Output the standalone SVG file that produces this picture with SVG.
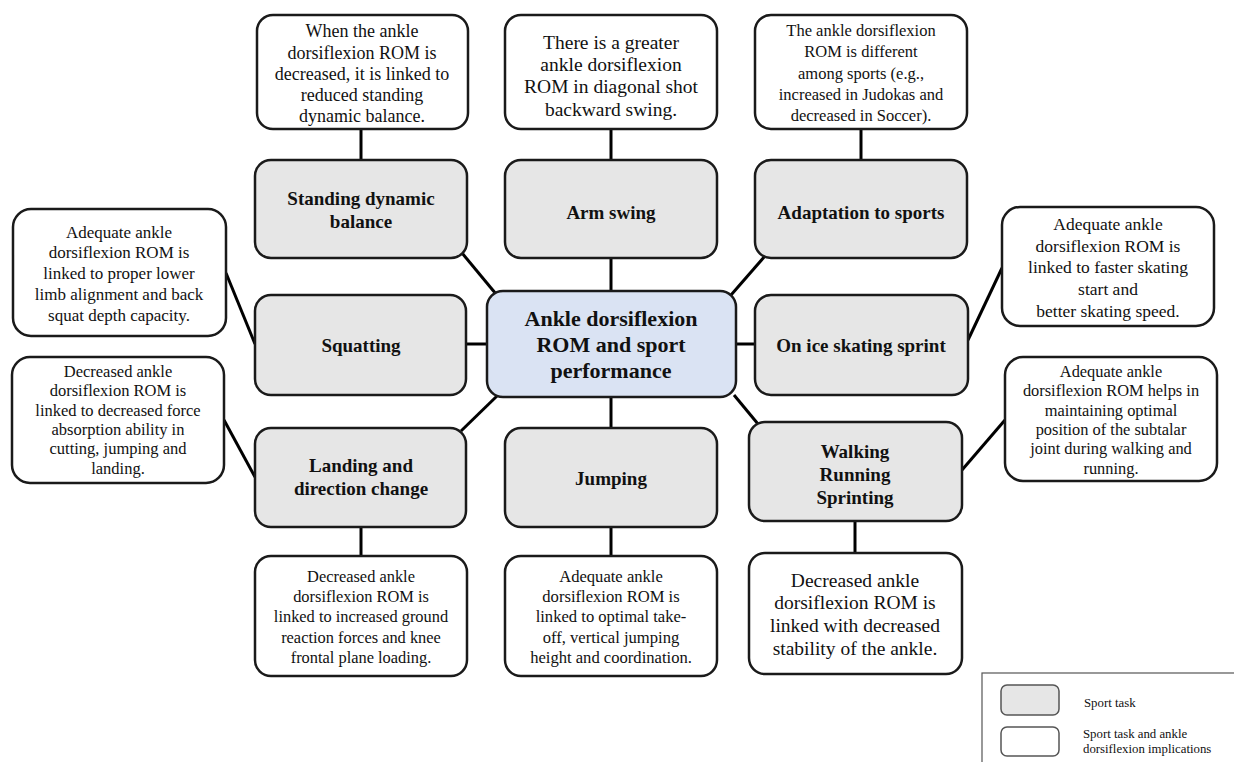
<svg xmlns="http://www.w3.org/2000/svg" width="1234" height="762" viewBox="0 0 1234 762">
  <style>
    .task { fill: #e6e6e6; stroke: #1a1a1a; stroke-width: 2.5; }
    .note { fill: #ffffff; stroke: #1a1a1a; stroke-width: 2.5; }
    .core { fill: #dae3f3; stroke: #1a1a1a; stroke-width: 2.5; }
    .link { stroke: #000000; stroke-width: 3; fill: none; stroke-linecap: butt; }
    text { font-family: "Liberation Serif", "Times New Roman", serif; fill: #111111; text-anchor: middle; }
    .tb { font-weight: bold; font-size: 19px; }
    .cb { font-weight: bold; font-size: 22px; }
    .lg { font-size: 12.8px; text-anchor: start; }
    .lgbox { stroke: #555555; stroke-width: 1.5; }
  </style>

  <rect width="1234" height="762" fill="#ffffff"/>

  <!-- connectors -->
  <g id="connectors" class="link">
    <line x1="361" y1="129" x2="361" y2="160"/>
    <line x1="611" y1="129" x2="611" y2="160"/>
    <line x1="861" y1="129" x2="861" y2="160"/>
    <line x1="462" y1="253" x2="496" y2="294"/>
    <line x1="611" y1="258" x2="611" y2="291"/>
    <line x1="765" y1="256" x2="731" y2="295"/>
    <line x1="466" y1="344" x2="487" y2="344"/>
    <line x1="736" y1="344" x2="755" y2="344"/>
    <line x1="497" y1="396" x2="461" y2="431"/>
    <line x1="611" y1="397" x2="611" y2="428"/>
    <line x1="734" y1="395" x2="758" y2="424"/>
    <line x1="226" y1="273" x2="255" y2="344"/>
    <line x1="224" y1="420" x2="255" y2="477"/>
    <line x1="968" y1="340" x2="1002" y2="268"/>
    <line x1="962" y1="470" x2="1005" y2="420"/>
    <line x1="361" y1="527" x2="361" y2="556"/>
    <line x1="611" y1="527" x2="611" y2="556"/>
    <line x1="855" y1="521" x2="855" y2="552"/>
  </g>

  <!-- central topic -->
  <g id="core">
    <rect class="core" x="487" y="291" width="249" height="106" rx="16"/>
    <text class="cb" x="611" y="326">Ankle dorsiflexion</text>
    <text class="cb" x="611" y="352">ROM and sport</text>
    <text class="cb" x="611" y="378">performance</text>
  </g>

  <!-- sport tasks -->
  <g id="task-balance">
    <rect class="task" x="255" y="160" width="212" height="98" rx="16"/>
    <text class="tb" x="361" y="205">Standing dynamic</text>
    <text class="tb" x="361" y="228">balance</text>
  </g>
  <g id="task-armswing">
    <rect class="task" x="505" y="160" width="212" height="98" rx="16"/>
    <text class="tb" x="611" y="219">Arm swing</text>
  </g>
  <g id="task-adaptation">
    <rect class="task" x="755" y="160" width="212" height="98" rx="16"/>
    <text class="tb" x="861" y="219">Adaptation to sports</text>
  </g>
  <g id="task-squatting">
    <rect class="task" x="255" y="295" width="211" height="100" rx="16"/>
    <text class="tb" x="361" y="352">Squatting</text>
  </g>
  <g id="task-skating">
    <rect class="task" x="755" y="295" width="213" height="100" rx="16"/>
    <text class="tb" x="861" y="352">On ice skating sprint</text>
  </g>
  <g id="task-landing">
    <rect class="task" x="255" y="428" width="211" height="99" rx="16"/>
    <text class="tb" x="361" y="472">Landing and</text>
    <text class="tb" x="361" y="495">direction change</text>
  </g>
  <g id="task-jumping">
    <rect class="task" x="505" y="428" width="212" height="99" rx="16"/>
    <text class="tb" x="611" y="485">Jumping</text>
  </g>
  <g id="task-walking">
    <rect class="task" x="749" y="422" width="213" height="99" rx="16"/>
    <text class="tb" x="855" y="458">Walking</text>
    <text class="tb" x="855" y="481">Running</text>
    <text class="tb" x="855" y="504">Sprinting</text>
  </g>

  <!-- implications -->
  <g id="note-balance">
    <rect class="note" x="257" y="15" width="211" height="114" rx="16"/>
    <text x="362" y="37" font-size="18">When the ankle</text>
    <text x="362" y="59" font-size="18">dorsiflexion ROM is</text>
    <text x="362" y="80" font-size="18">decreased, it is linked to</text>
    <text x="362" y="101" font-size="18">reduced standing</text>
    <text x="362" y="122" font-size="18">dynamic balance.</text>
  </g>
  <g id="note-armswing">
    <rect class="note" x="505" y="15" width="212" height="114" rx="16"/>
    <text x="611" y="49" font-size="19.5">There is a greater</text>
    <text x="611" y="71" font-size="19.5">ankle dorsiflexion</text>
    <text x="611" y="93" font-size="19.5">ROM in diagonal shot</text>
    <text x="611" y="116" font-size="19.5">backward swing.</text>
  </g>
  <g id="note-adaptation">
    <rect class="note" x="755" y="15" width="212" height="114" rx="16"/>
    <text x="861" y="36" font-size="16.5">The ankle dorsiflexion</text>
    <text x="861" y="57" font-size="16.5">ROM is different</text>
    <text x="861" y="79" font-size="16.5">among sports (e.g.,</text>
    <text x="861" y="100" font-size="16.5">increased in Judokas and</text>
    <text x="861" y="121" font-size="16.5">decreased in Soccer).</text>
  </g>
  <g id="note-squatting">
    <rect class="note" x="13" y="209" width="213" height="127" rx="18"/>
    <text x="119" y="238" font-size="17">Adequate ankle</text>
    <text x="119" y="258" font-size="17">dorsiflexion ROM is</text>
    <text x="119" y="279" font-size="17">linked to proper lower</text>
    <text x="119" y="300" font-size="17">limb alignment and back</text>
    <text x="119" y="321" font-size="17">squat depth capacity.</text>
  </g>
  <g id="note-landing-side">
    <rect class="note" x="12" y="357" width="212" height="126" rx="18"/>
    <text x="118" y="377" font-size="16.5">Decreased ankle</text>
    <text x="118" y="396" font-size="16.5">dorsiflexion ROM is</text>
    <text x="118" y="416" font-size="16.5">linked to decreased force</text>
    <text x="118" y="435" font-size="16.5">absorption ability in</text>
    <text x="118" y="454" font-size="16.5">cutting, jumping and</text>
    <text x="118" y="474" font-size="16.5">landing.</text>
  </g>
  <g id="note-skating">
    <rect class="note" x="1002" y="207" width="212" height="119" rx="18"/>
    <text x="1108" y="230" font-size="17.5">Adequate ankle</text>
    <text x="1108" y="252" font-size="17.5">dorsiflexion ROM is</text>
    <text x="1108" y="273" font-size="17.5">linked to faster skating</text>
    <text x="1108" y="295" font-size="17.5">start and</text>
    <text x="1108" y="317" font-size="17.5">better skating speed.</text>
  </g>
  <g id="note-walking-side">
    <rect class="note" x="1005" y="357" width="212" height="124" rx="18"/>
    <text x="1111" y="377" font-size="16.4">Adequate ankle</text>
    <text x="1111" y="396" font-size="16.4">dorsiflexion ROM helps in</text>
    <text x="1111" y="416" font-size="16.4">maintaining optimal</text>
    <text x="1111" y="435" font-size="16.4">position of the subtalar</text>
    <text x="1111" y="454" font-size="16.4">joint during walking and</text>
    <text x="1111" y="474" font-size="16.4">running.</text>
  </g>
  <g id="note-landing">
    <rect class="note" x="255" y="556" width="212" height="120" rx="16"/>
    <text x="361" y="582" font-size="16.4">Decreased ankle</text>
    <text x="361" y="602" font-size="16.4">dorsiflexion ROM is</text>
    <text x="361" y="622" font-size="16.4">linked to increased ground</text>
    <text x="361" y="643" font-size="16.4">reaction forces and knee</text>
    <text x="361" y="663" font-size="16.4">frontal plane loading.</text>
  </g>
  <g id="note-jumping">
    <rect class="note" x="505" y="556" width="212" height="120" rx="16"/>
    <text x="611" y="582" font-size="16.6">Adequate ankle</text>
    <text x="611" y="602" font-size="16.6">dorsiflexion ROM is</text>
    <text x="611" y="622" font-size="16.6">linked to optimal take-</text>
    <text x="611" y="643" font-size="16.6">off, vertical jumping</text>
    <text x="611" y="663" font-size="16.6">height and coordination.</text>
  </g>
  <g id="note-walking">
    <rect class="note" x="749" y="553" width="213" height="121" rx="16"/>
    <text x="855" y="587" font-size="19.5">Decreased ankle</text>
    <text x="855" y="609" font-size="19.5">dorsiflexion ROM is</text>
    <text x="855" y="632" font-size="19.5">linked with decreased</text>
    <text x="855" y="655" font-size="19.5">stability of the ankle.</text>
  </g>

  <!-- key -->
  <g id="legend">
    <rect x="982" y="673" width="260" height="100" fill="#ffffff" stroke="#555555" stroke-width="1.2"/>
    <rect class="lgbox" x="1001" y="685" width="58" height="30" rx="6" fill="#e6e6e6"/>
    <rect class="lgbox" x="1001" y="727" width="58" height="29" rx="6" fill="#ffffff"/>
    <text class="lg" x="1084" y="707">Sport task</text>
    <text class="lg" x="1083" y="738">Sport task and ankle</text>
    <text class="lg" x="1083" y="753">dorsiflexion implications</text>
  </g>
</svg>
